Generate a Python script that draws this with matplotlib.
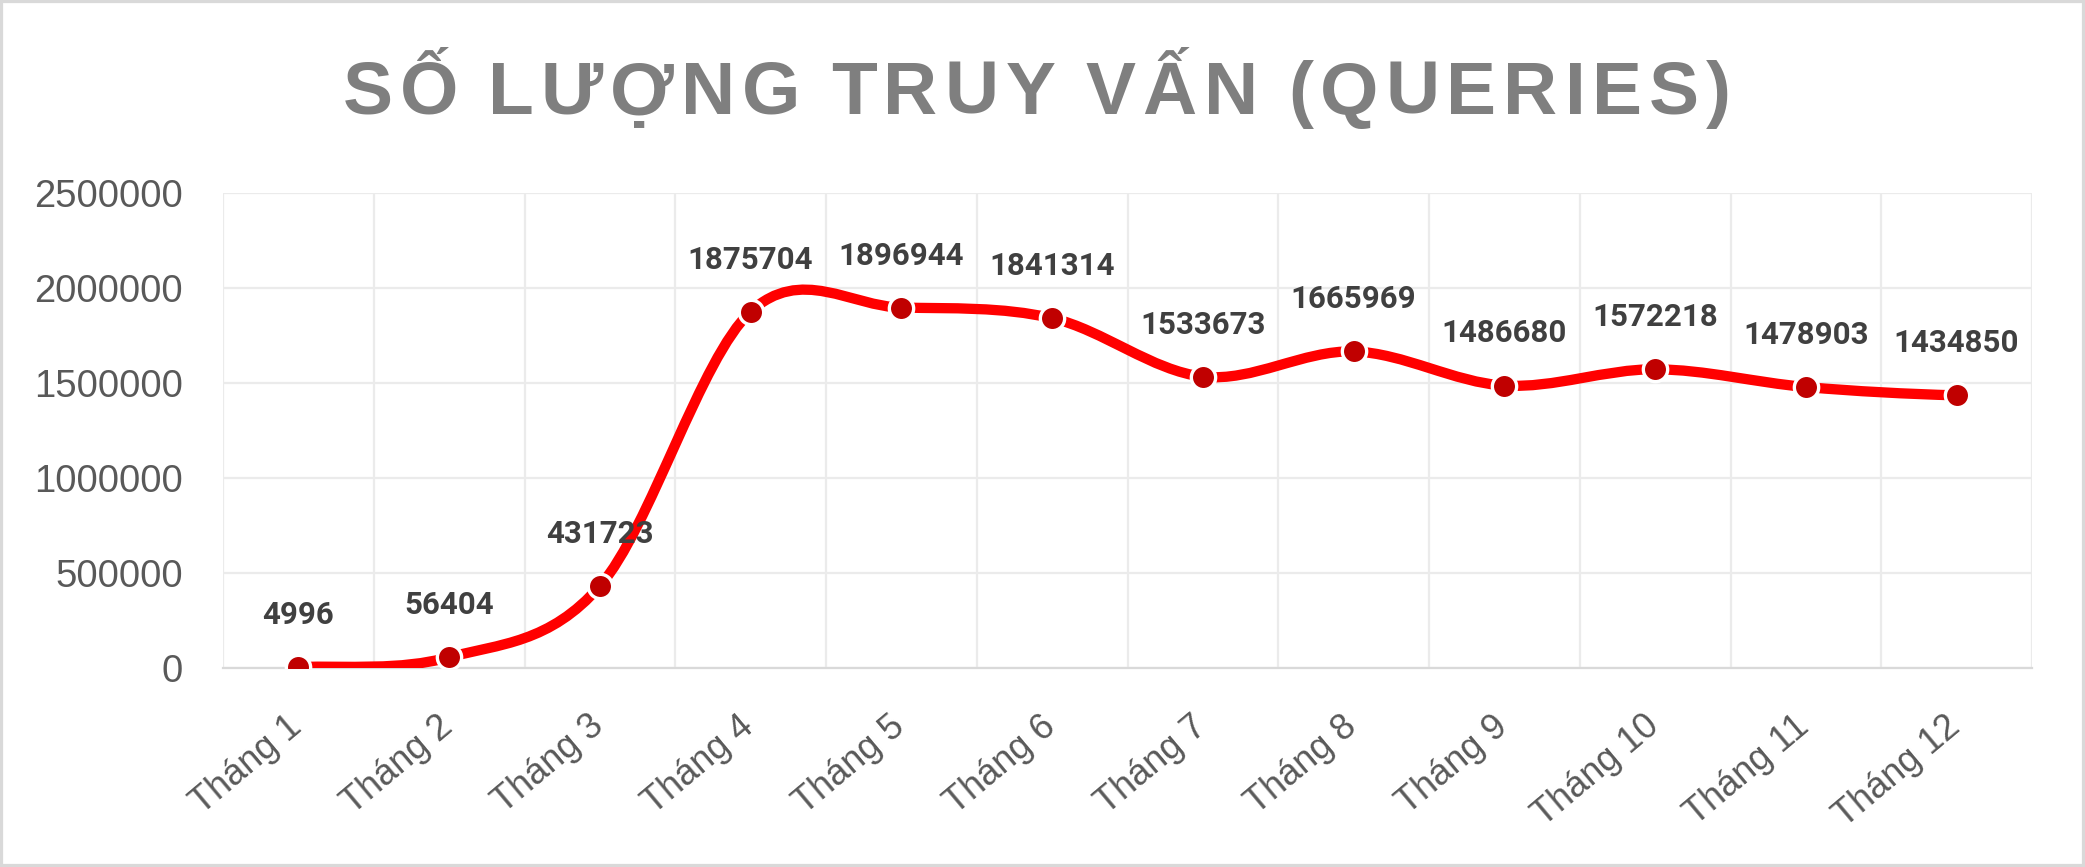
import matplotlib
matplotlib.use("Agg")
import matplotlib.pyplot as plt
from matplotlib.path import Path
from matplotlib.patches import PathPatch, Rectangle
from matplotlib.ticker import MultipleLocator, FixedLocator, StrMethodFormatter
import matplotlib.transforms as mtransforms

# data
thang = ["Tháng 1", "Tháng 2", "Tháng 3", "Tháng 4", "Tháng 5", "Tháng 6",
         "Tháng 7", "Tháng 8", "Tháng 9", "Tháng 10", "Tháng 11", "Tháng 12"]
so_truy_van = [4996, 56404, 431723, 1875704, 1896944, 1841314,
               1533673, 1665969, 1486680, 1572218, 1478903, 1434850]
titre = "SỐ LƯỢNG TRUY VẤN (QUERIES)"

W, H, DPI = 2085, 867, 100
fig = plt.figure(figsize=(W / DPI, H / DPI), dpi=DPI)
fig.patch.set_facecolor("white")
police = ["Liberation Sans", "DejaVu Sans"]
police_label = ["Roboto", "DejaVu Sans"]

ax = fig.add_axes([223 / W, 1 - 668 / H, (2032 - 223) / W, (668 - 193) / H])
n = len(so_truy_van)
x = list(range(n))

# smoothed line (catmull-rom as bezier, like excel)
v = [so_truy_van[0]] + so_truy_van + [so_truy_van[-1]]
verts = [(0, so_truy_van[0])]
codes = [Path.MOVETO]
for i in range(n - 1):
    p0, p1, p2, p3 = v[i], v[i + 1], v[i + 2], v[i + 3]
    verts += [(i + 1 / 3, p1 + (p2 - p0) / 6), (i + 2 / 3, p2 - (p3 - p1) / 6), (i + 1, p2)]
    codes += [Path.CURVE4] * 3
courbe = PathPatch(Path(verts, codes), facecolor="none", edgecolor="#FF0000",
                   linewidth=7.4, capstyle="round", joinstyle="round", zorder=3)
ax.add_patch(courbe)

ax.plot(x, so_truy_van, linestyle="none", marker="o", markersize=17.5,
        markerfacecolor="#C00000", markeredgecolor="white", markeredgewidth=2.4, zorder=4)

for xi, val in zip(x, so_truy_van):
    ax.annotate(str(val), (xi, val), xytext=(0, 31), textcoords="offset points",
                ha="center", va="baseline", fontsize=22.5, fontweight="bold",
                family=police_label, color="#404040", zorder=5)

ax.set_xlim(-0.5, n - 0.5)
ax.set_ylim(0, 2500000)
ax.yaxis.set_major_locator(MultipleLocator(500000))
ax.yaxis.set_major_formatter(StrMethodFormatter("{x:.0f}"))
ax.xaxis.set_major_locator(FixedLocator(x))
ax.xaxis.set_minor_locator(FixedLocator([i - 0.5 for i in range(n + 1)]))
ax.set_xticklabels(thang)
ax.grid(axis="y", which="major", color="#EBEBEB", linewidth=1.6)
ax.grid(axis="x", which="minor", color="#EBEBEB", linewidth=1.6)
ax.set_axisbelow(True)
for cote in ["top", "left", "right"]:
    ax.spines[cote].set_visible(False)
ax.spines["bottom"].set_color("#D9D9D9")
ax.spines["bottom"].set_linewidth(1.6)
ax.tick_params(axis="both", which="both", length=0)
ax.tick_params(axis="y", pad=29, labelsize=27.5, labelcolor="#595959")
ax.tick_params(axis="x", pad=0, labelsize=26, labelcolor="#595959")
for t in ax.get_yticklabels():
    t.set_family(police)
decal = mtransforms.ScaledTranslation(-1 / DPI, -54 / DPI, fig.dpi_scale_trans)
for t in ax.get_xticklabels():
    t.set_family(police)
    t.set_rotation(40)
    t.set_ha("right")
    t.set_va("center")
    t.set_rotation_mode("anchor")
    t.set_transform(t.get_transform() + decal)

# title with letter spacing
renderer = fig.canvas.get_renderer()
ecart, ecart_mot = 7, 30
largeurs = []
for c in titre:
    if c == " ":
        largeurs.append(None)
        continue
    t = fig.text(0, 0, c, fontsize=54, fontweight="bold", family=police)
    largeurs.append(t.get_window_extent(renderer).width)
    t.remove()
total = 0
for i, w in enumerate(largeurs):
    if w is None:
        total += ecart_mot
    else:
        total += w
        if i + 1 < len(largeurs) and largeurs[i + 1] is not None:
            total += ecart
pos = 1037 - total / 2
for i, (c, w) in enumerate(zip(titre, largeurs)):
    if w is None:
        pos += ecart_mot
        continue
    fig.text(pos / W, 1 - 114 / H, c, fontsize=54, fontweight="bold", family=police,
             color="#7F7F7F", ha="left", va="baseline")
    pos += w
    if i + 1 < len(largeurs) and largeurs[i + 1] is not None:
        pos += ecart

fig.patches.append(Rectangle((0, 0), 1, 1, transform=fig.transFigure, fill=False,
                             edgecolor="#D9D9D9", linewidth=4.5, zorder=10))

plt.savefig("out.png", dpi=DPI)
